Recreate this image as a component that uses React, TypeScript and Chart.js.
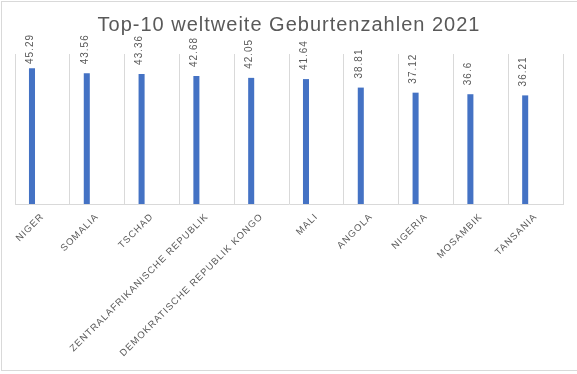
import React, { useEffect, useRef } from "react";
import { Chart, registerables } from "chart.js";

Chart.register(...registerables);

const chartTitle = "Top-10 weltweite Geburtenzahlen 2021";
const countries = [
  "NIGER",
  "SOMALIA",
  "TSCHAD",
  "ZENTRALAFRIKANISCHE REPUBLIK",
  "DEMOKRATISCHE REPUBLIK KONGO",
  "MALI",
  "ANGOLA",
  "NIGERIA",
  "MOSAMBIK",
  "TANSANIA",
];
const birthRates = [45.29, 43.56, 43.36, 42.68, 42.05, 41.64, 38.81, 37.12, 36.6, 36.21];
const emptySeries: (number | null)[] = countries.map(() => null);
const yMin = 0;
const yMax = 50;

const FONT = '"Liberation Sans", Arial, sans-serif';
const TEXT = "#595959";
const GRID = "#d9d9d9";
const BAR = "#4472C4";

const spacingPlugin = {
  id: "spacing",
  beforeUpdate(chart: any) {
    chart.ctx.letterSpacing = "1px";
  },
  beforeLayout(chart: any) {
    chart.ctx.letterSpacing = "1px";
  },
  beforeDraw(chart: any) {
    chart.ctx.letterSpacing = "1px";
  },
};

const labelPlugin = {
  id: "barLabels",
  afterDatasetsDraw(chart: any) {
    const ctx = chart.ctx;
    const meta = chart.getDatasetMeta(0);
    ctx.save();
    ctx.font = `10px ${FONT}`;
    ctx.fillStyle = TEXT;
    ctx.letterSpacing = "1px";
    meta.data.forEach((bar: any, i: number) => {
      const text = String(birthRates[i]);
      const w = ctx.measureText(text).width;
      let start = bar.y - 9;
      const minTop = chart.chartArea.top - 20;
      if (start - w < minTop) start = minTop + w;
      ctx.save();
      ctx.translate(bar.x - 2, start);
      ctx.rotate(-Math.PI / 2);
      ctx.textAlign = "left";
      ctx.textBaseline = "middle";
      ctx.fillText(text, 0, 0);
      ctx.restore();
    });
    ctx.restore();
  },
};

export default function App() {
  const ref = useRef<HTMLCanvasElement | null>(null);

  useEffect(() => {
    if (!ref.current) return;
    const chart = new Chart(ref.current, {
      type: "bar",
      data: {
        labels: countries,
        datasets: [
          { data: birthRates, backgroundColor: BAR, borderWidth: 0 },
          { data: emptySeries as any, backgroundColor: BAR, borderWidth: 0 },
        ],
      },
      options: {
        responsive: true,
        maintainAspectRatio: false,
        animation: false,
        categoryPercentage: 0.76,
        barPercentage: 0.29,
        layout: { padding: { left: 13, right: 15, top: 0, bottom: 4 } },
        plugins: {
          legend: { display: false },
          tooltip: { enabled: false },
          title: {
            display: true,
            text: chartTitle,
            color: TEXT,
            font: { family: FONT, size: 20, weight: "normal" as any },
            padding: { top: 11, bottom: 17 },
          },
        },
        scales: {
          x: {
            grid: { color: GRID, offset: true, drawTicks: false },
            border: { color: GRID },
            ticks: {
              color: TEXT,
              font: { family: FONT, size: 9.5 },
              minRotation: 45,
              maxRotation: 45,
              autoSkip: false,
              padding: 7,
            },
          },
          y: { display: false, min: yMin, max: yMax },
        },
      } as any,
      plugins: [spacingPlugin, labelPlugin],
    });
    return () => chart.destroy();
  }, []);

  return (
    <div
      style={{
        position: "absolute",
        left: 1,
        top: 1,
        width: 578,
        height: 370,
        boxSizing: "border-box",
        border: `1px solid ${GRID}`,
        background: "#fff",
      }}
    >
      <div style={{ position: "relative", width: "100%", height: "100%" }}>
        <canvas ref={ref} />
      </div>
    </div>
  );
}
